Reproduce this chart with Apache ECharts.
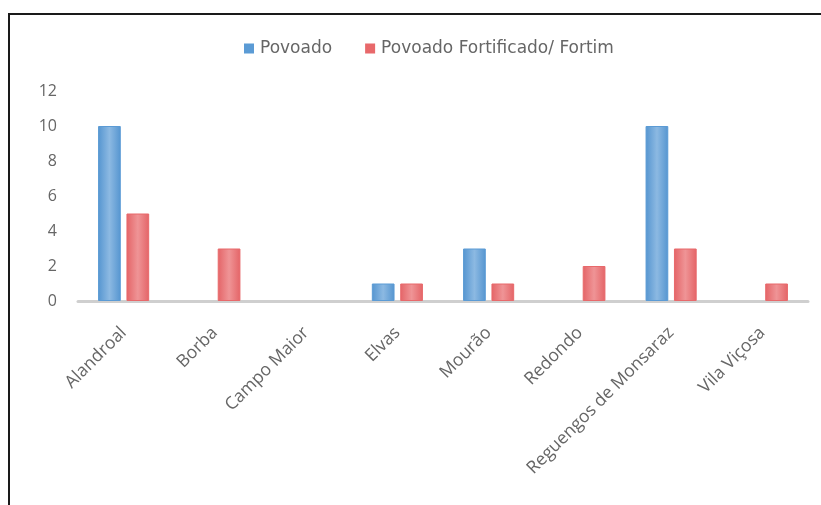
<!DOCTYPE html>
<html>
<head>
<meta charset="utf-8">
<script src="https://cdn.jsdelivr.net/npm/echarts@6/dist/echarts.min.js"></script>
<style>
  html, body { margin: 0; padding: 0; background: #fff; }
  #frame { position: absolute; left: 8px; top: 13px; width: 813px; height: 492px;
           border-top: 2px solid #1a1a1a; border-left: 2px solid #1a1a1a; box-sizing: border-box; }
  #chart { position: absolute; left: 0; top: 0; width: 821px; height: 505px; }
</style>
</head>
<body>
<div id="frame"></div>
<div id="chart"></div>
<script>
const categories = ["Alandroal", "Borba", "Campo Maior", "Elvas", "Mourão", "Redondo", "Reguengos de Monsaraz", "Vila Viçosa"];
const povoado = [10, null, null, 1, 3, null, 10, null];
const fortificado = [5, 3, null, 1, 1, 2, 3, 1];
const seriesNames = ["Povoado", "Povoado Fortificado/ Fortim"];
const yTicks = { min: 0, max: 12, interval: 2 };

function grad(edge, mid) {
  return new echarts.graphic.LinearGradient(0, 0, 1, 0, [
    { offset: 0, color: edge }, { offset: 0.5, color: mid }, { offset: 1, color: edge }
  ]);
}
const chart = echarts.init(document.getElementById('chart'), null, { renderer: 'canvas' });
chart.setOption({
  backgroundColor: 'transparent',
  animation: false,
  legend: {
    left: 239, top: 35, itemWidth: 8, itemHeight: 8, itemGap: 33,
    icon: 'rect',
    textStyle: { color: '#666666', fontSize: 17, fontFamily: "'DejaVu Sans', sans-serif", padding: [0, 0, 0, 2] },
    data: [
      { name: seriesNames[0], itemStyle: { color: '#5B9BD5' } },
      { name: seriesNames[1], itemStyle: { color: '#E8696B' } }
    ]
  },
  grid: { left: 78, right: 13, top: 91, bottom: 204, containLabel: false },
  xAxis: {
    type: 'category',
    data: categories,
    axisLine: { lineStyle: { color: '#CFCFCF', width: 3 } },
    axisTick: { show: false },
    axisLabel: { rotate: 45, color: '#666666', fontSize: 17.5, fontFamily: "'Open Sans', sans-serif", margin: 29, interval: 0 }
  },
  yAxis: {
    type: 'value',
    min: yTicks.min, max: yTicks.max, interval: yTicks.interval,
    axisLine: { show: false },
    axisTick: { show: false },
    splitLine: { show: false },
    axisLabel: { color: '#666666', fontSize: 16, fontFamily: "'Open Sans', sans-serif", margin: 21 }
  },
  series: [
    {
      name: seriesNames[0], type: 'bar', data: povoado,
      barGap: '25%', barCategoryGap: '44%',
      itemStyle: { color: grad('#5595D0', '#8CB9E2'), borderColor: '#5B9BD5', borderWidth: 1 }
    },
    {
      name: seriesNames[1], type: 'bar', data: fortificado,
      itemStyle: { color: grad('#E46467', '#EF9496'), borderColor: '#E8696B', borderWidth: 1 }
    }
  ]
});
</script>
</body>
</html>
